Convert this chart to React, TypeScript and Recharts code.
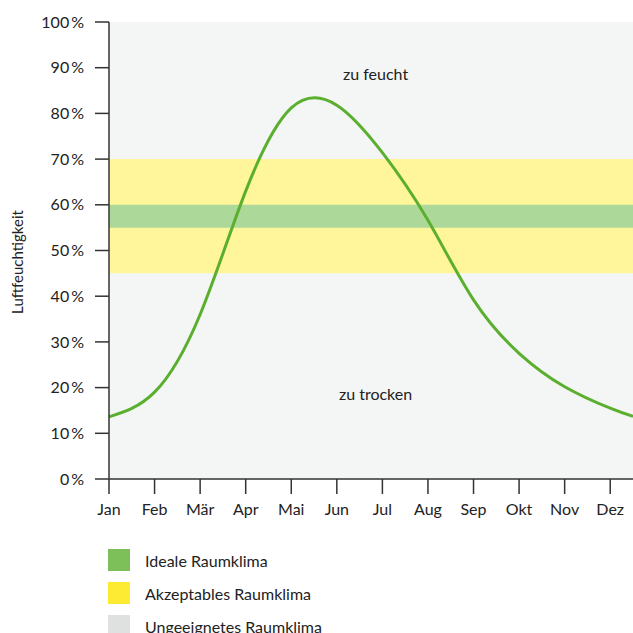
import { ComposedChart, Line, XAxis, YAxis, CartesianGrid, ReferenceArea, ReferenceDot } from "recharts";

const months = ["Jan", "Feb", "Mär", "Apr", "Mai", "Jun", "Jul", "Aug", "Sep", "Okt", "Nov", "Dez"];
const humidity = [13.6, 19, 36, 63, 81.2, 81.8, 71.4, 56.6, 39.2, 27.5, 20.2, 15.5];
// value at the right edge of the plot (half a month after Dez)
const endHumidity = 13.7;
const yTicks = [0, 10, 20, 30, 40, 50, 60, 70, 80, 90, 100];

const legendItems = [
  { label: "Ideale Raumklima", color: "#7dc05a" },
  { label: "Akzeptables Raumklima", color: "#fdea33" },
  { label: "Ungeeignetes Raumklima", color: "#dfe1e0" },
];

const data = [
  ...humidity.map((v, i) => ({ x: i, value: v })),
  { x: 11.5, value: endHumidity },
];

const font = "Lato, 'Open Sans', sans-serif";
const axisColor = "#333";
const tickStyle = { fontSize: 16, fill: "#222", fontFamily: font };

export default function App() {
  return (
    <div style={{ position: "absolute", left: 0, top: 0, width: 633, height: 633, background: "#fff", fontFamily: font }}>
      <ComposedChart
        width={633}
        height={530}
        data={data}
        margin={{ top: 22, right: 0, left: 0, bottom: 6 }}
      >
        <CartesianGrid horizontal={false} vertical={false} fill="#f4f6f5" stroke="none" />
        <ReferenceArea y1={45} y2={70} fill="#fff59a" fillOpacity={1} stroke="none" />
        <ReferenceArea y1={55} y2={60} fill="#acd99a" fillOpacity={1} stroke="none" />
        <XAxis
          dataKey="x"
          type="number"
          domain={[0, 11.5]}
          ticks={months.map((_, i) => i)}
          tickFormatter={(i: number) => months[i]}
          interval={0}
          height={45}
          tickSize={15}
          tickMargin={10}
          tick={tickStyle}
          stroke={axisColor}
          strokeWidth={1.5}
        />
        <YAxis
          type="number"
          domain={[0, 100]}
          ticks={yTicks}
          tickFormatter={(v: number) => `${v}\u2009%`}
          width={109}
          tickSize={14}
          tickMargin={11}
          tick={tickStyle}
          stroke={axisColor}
          strokeWidth={1.5}
          interval={0}
        />
        <ReferenceDot
          x={5.85}
          y={88.5}
          r={0}
          stroke="none"
          label={{ value: "zu feucht", position: "center", fontSize: 16, fill: "#222", fontFamily: font }}
        />
        <ReferenceDot
          x={5.85}
          y={18.5}
          r={0}
          stroke="none"
          label={{ value: "zu trocken", position: "center", fontSize: 16, fill: "#222", fontFamily: font }}
        />
        <Line
          type="natural"
          dataKey="value"
          stroke="#5aaf2e"
          strokeWidth={3}
          dot={false}
          isAnimationActive={false}
        />
      </ComposedChart>
      <div
        style={{
          position: "absolute",
          left: 17,
          top: 262,
          transform: "translate(-50%, -50%) rotate(-90deg)",
          fontSize: 15,
          color: "#222",
          whiteSpace: "nowrap",
        }}
      >
        Luftfeuchtigkeit
      </div>
      {legendItems.map((item, i) => (
        <div
          key={item.label}
          style={{ position: "absolute", left: 108, top: 549 + i * 33, height: 22, display: "flex", alignItems: "center" }}
        >
          <div style={{ width: 22, height: 22, background: item.color }} />
          <span style={{ marginLeft: 15, fontSize: 16, color: "#222" }}>{item.label}</span>
        </div>
      ))}
    </div>
  );
}
